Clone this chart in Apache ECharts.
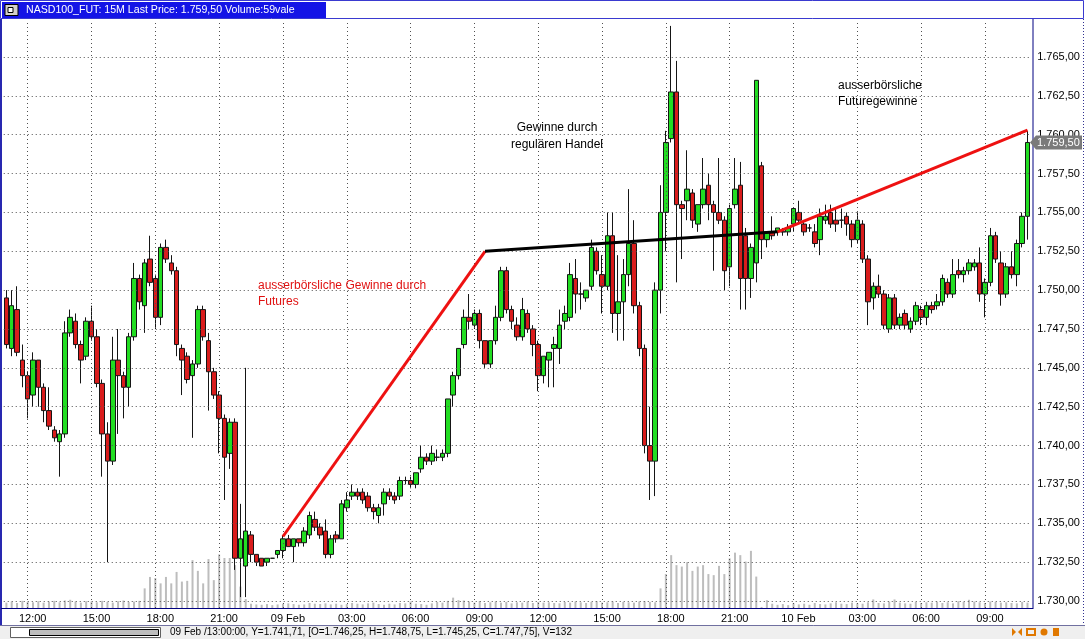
<!DOCTYPE html>
<html><head><meta charset="utf-8">
<script src="https://cdn.jsdelivr.net/npm/echarts@6/dist/echarts.min.js"></script>
<style>html,body{margin:0;padding:0;background:#fff;overflow:hidden}#c{width:1085px;height:639px}</style>
</head><body><div id="c"></div>
<script>
// ---- data ----
const xTickLabels = ['12:00','15:00','18:00','21:00','09 Feb','03:00','06:00','09:00','12:00','15:00','18:00','21:00','10 Feb','03:00','06:00','09:00'];
const yTicks = [1730,1732.5,1735,1737.5,1740,1742.5,1745,1747.5,1750,1752.5,1755,1757.5,1760,1762.5,1765];
// [open, close, low, high] per 15-minute bar, 08 Feb 11:00 .. 10 Feb 11:00
const ohlc = [
[1749.5,1746.5,1746.25,1750.0],[1746.25,1749.0,1745.75,1750.0],[1748.75,1746.0,1745.75,1750.25],[1745.5,1744.5,1743.75,1746.5],
[1744.5,1743.0,1741.75,1744.75],[1743.25,1745.5,1742.5,1746.0],[1745.5,1743.75,1742.5,1745.5],[1743.75,1742.25,1741.5,1744.0],
[1742.25,1741.25,1741.0,1743.75],[1741.0,1740.5,1740.25,1741.25],[1740.25,1740.75,1738.0,1741.0],[1740.75,1747.25,1740.5,1748.0],
[1747.25,1748.25,1747.0,1748.75],[1748.0,1746.5,1746.25,1748.5],[1746.5,1745.5,1744.0,1746.75],[1745.75,1748.0,1745.5,1748.25],
[1748.0,1747.0,1746.75,1749.0],[1747.0,1744.0,1743.75,1747.5],[1744.0,1740.75,1738.0,1744.25],[1740.75,1739.0,1732.5,1741.5],
[1739.0,1745.5,1738.75,1747.0],[1745.5,1744.5,1740.75,1747.5],[1744.5,1743.75,1741.75,1744.75],[1743.75,1747.0,1742.5,1747.25],
[1747.0,1750.75,1746.75,1751.75],[1750.75,1749.25,1748.75,1751.0],[1749.0,1751.75,1747.25,1752.0],[1752.0,1750.5,1750.25,1753.5],
[1750.75,1748.25,1747.5,1751.0],[1748.25,1752.75,1747.75,1753.0],[1752.75,1752.0,1751.75,1753.25],[1751.75,1751.25,1751.0,1752.25],
[1751.25,1746.5,1745.75,1751.5],[1746.25,1745.5,1743.25,1746.5],[1745.75,1744.25,1744.0,1746.0],[1744.5,1745.25,1740.5,1745.5],
[1745.25,1748.75,1745.0,1749.0],[1748.75,1747.0,1746.75,1749.0],[1746.75,1744.75,1742.25,1747.25],[1744.75,1743.25,1743.0,1745.0],
[1743.25,1741.75,1739.5,1743.5],[1741.75,1739.25,1736.5,1742.0],[1739.5,1741.5,1738.5,1741.75],[1741.5,1732.75,1732.0,1741.75],
[1732.75,1734.0,1730.25,1736.25],[1732.25,1734.5,1730.25,1745.0],[1734.25,1733.0,1732.5,1734.5],[1733.0,1732.5,1732.25,1733.0],
[1732.75,1732.25,1732.25,1732.75],[1732.5,1732.75,1732.25,1732.75],[1732.75,1732.75,1732.75,1732.75],[1733.0,1733.25,1732.75,1733.25],
[1733.25,1734.0,1732.75,1734.25],[1734.0,1733.5,1733.5,1734.25],[1733.5,1734.0,1732.5,1734.0],[1734.0,1733.75,1733.5,1734.0],
[1733.75,1734.5,1733.5,1734.75],[1734.25,1735.5,1734.0,1735.75],[1735.25,1734.75,1734.5,1735.75],[1734.75,1734.25,1734.0,1735.0],
[1734.5,1733.0,1732.75,1735.25],[1733.0,1734.0,1732.75,1734.25],[1734.25,1734.0,1733.75,1734.5],[1734.0,1736.25,1734.0,1736.5],
[1736.0,1736.5,1735.75,1737.0],[1736.75,1737.0,1736.5,1737.5],[1737.0,1736.75,1736.5,1737.25],[1737.0,1736.5,1736.25,1737.25],
[1736.75,1736.0,1735.75,1737.0],[1736.0,1735.75,1735.25,1736.25],[1735.5,1736.0,1735.0,1736.25],[1736.25,1737.0,1735.5,1737.25],
[1737.0,1736.75,1736.5,1737.25],[1736.75,1736.5,1736.25,1737.0],[1736.75,1737.75,1736.5,1738.0],[1737.75,1737.75,1737.5,1738.0],
[1737.75,1737.5,1737.25,1738.0],[1737.5,1738.25,1737.25,1738.25],[1738.5,1739.25,1738.25,1740.0],[1739.25,1739.0,1738.75,1739.5],
[1739.0,1739.5,1738.75,1740.0],[1739.25,1739.25,1739.0,1739.75],[1739.25,1739.5,1739.0,1739.75],[1739.5,1743.0,1739.25,1743.0],
[1743.25,1744.5,1742.5,1744.75],[1744.5,1746.25,1744.25,1746.25],[1746.5,1748.25,1746.25,1748.75],[1748.25,1748.0,1747.5,1749.75],
[1747.75,1748.5,1747.5,1748.75],[1748.5,1746.75,1746.25,1748.75],[1746.75,1745.25,1745.0,1746.75],[1745.25,1746.75,1745.0,1746.75],
[1746.75,1748.25,1746.5,1749.0],[1748.25,1751.25,1748.0,1751.5],[1751.25,1748.75,1748.5,1751.5],[1748.75,1748.0,1747.5,1749.0],
[1747.75,1747.0,1746.75,1748.25],[1747.0,1748.75,1746.75,1749.5],[1748.5,1747.5,1747.25,1748.75],[1747.5,1746.5,1745.75,1747.75],
[1746.5,1744.5,1743.5,1746.75],[1744.5,1745.75,1744.0,1745.75],[1745.5,1746.0,1743.75,1746.0],[1746.25,1746.5,1743.75,1747.0],
[1746.25,1747.75,1745.25,1748.75],[1748.0,1748.5,1747.5,1749.0],[1748.25,1751.0,1748.0,1751.75],[1750.75,1749.75,1748.5,1752.0],
[1749.75,1749.75,1748.75,1750.5],[1749.5,1750.0,1749.25,1750.0],[1750.25,1752.75,1750.0,1753.25],[1752.5,1751.25,1751.0,1752.75],
[1751.0,1750.25,1748.5,1752.25],[1750.25,1753.5,1750.0,1755.0],[1753.5,1748.5,1747.25,1755.0],[1748.5,1749.25,1746.75,1752.25],
[1749.25,1751.0,1746.75,1752.0],[1751.0,1753.0,1750.25,1756.5],[1753.0,1749.0,1748.5,1754.5],[1749.0,1746.25,1745.75,1749.25],
[1746.25,1740.0,1739.5,1746.5],[1740.0,1739.0,1736.5,1742.5],[1739.0,1750.0,1736.75,1750.5],[1750.0,1755.0,1748.5,1756.75],
[1755.0,1759.5,1752.5,1760.25],[1759.75,1762.75,1759.5,1767.0],[1762.75,1755.5,1750.5,1764.75],[1755.5,1755.25,1752.0,1755.75],
[1755.75,1756.5,1754.5,1759.0],[1756.25,1754.5,1754.0,1756.5],[1754.25,1755.5,1753.75,1755.5],[1755.5,1756.5,1755.25,1758.5],
[1756.75,1755.5,1754.5,1757.5],[1755.5,1755.0,1751.25,1755.75],[1755.0,1754.5,1754.25,1758.5],[1754.5,1751.25,1750.0,1754.75],
[1751.5,1755.25,1750.25,1755.5],[1755.5,1756.5,1755.25,1758.5],[1756.75,1750.75,1748.75,1758.25],[1753.5,1750.75,1748.75,1754.0],
[1750.75,1752.75,1749.5,1753.0],[1751.75,1763.5,1750.5,1763.5],[1758.0,1753.25,1752.0,1758.25],[1753.25,1753.75,1752.75,1753.75],
[1753.75,1753.5,1753.25,1754.75],[1753.75,1754.0,1753.5,1754.0],[1753.75,1753.75,1753.5,1754.0],[1753.75,1754.0,1753.5,1754.25],
[1754.25,1755.25,1753.75,1755.25],[1755.0,1754.5,1754.25,1755.75],[1754.25,1753.75,1753.5,1754.5],[1754.0,1754.0,1753.75,1754.25],
[1753.75,1753.0,1752.75,1754.25],[1753.25,1754.75,1752.25,1755.25],[1754.5,1754.75,1754.25,1755.5],[1755.0,1754.25,1754.0,1755.5],
[1754.5,1754.25,1753.75,1755.25],[1754.5,1754.5,1754.0,1755.25],[1754.75,1754.25,1753.5,1755.0],[1754.25,1753.25,1752.75,1754.5],
[1753.25,1754.5,1753.0,1755.0],[1754.25,1752.0,1751.75,1754.5],[1752.0,1749.25,1747.75,1752.25],[1749.5,1750.25,1748.75,1750.5],
[1750.25,1749.75,1749.5,1751.0],[1749.75,1747.75,1747.5,1750.0],[1747.5,1749.5,1747.25,1749.75],[1749.5,1747.75,1747.5,1749.75],
[1747.75,1748.25,1747.5,1748.5],[1748.5,1747.75,1747.5,1748.75],[1747.5,1748.0,1747.25,1748.25],[1748.0,1749.0,1747.75,1749.25],
[1748.75,1748.25,1747.75,1749.0],[1748.25,1749.0,1747.75,1749.25],[1749.0,1748.75,1748.5,1749.25],[1749.0,1749.25,1748.75,1749.75],
[1749.25,1750.75,1749.0,1751.0],[1750.5,1749.75,1749.5,1750.75],[1749.75,1751.0,1749.5,1752.0],[1751.25,1751.0,1750.75,1752.0],
[1751.0,1751.25,1750.5,1751.5],[1751.25,1751.75,1751.0,1752.0],[1751.5,1751.75,1751.25,1752.0],[1751.75,1749.75,1749.25,1752.75],
[1749.75,1750.5,1748.25,1750.75],[1750.5,1753.5,1750.25,1754.0],[1753.5,1752.0,1751.75,1753.75],[1751.75,1749.75,1749.0,1752.5],
[1749.75,1751.5,1749.5,1751.75],[1751.5,1751.0,1750.75,1752.5],[1751.0,1753.0,1750.25,1753.25],[1753.0,1754.75,1752.75,1755.0],
[1754.75,1759.5,1753.25,1760.25]
];
const volumes = [
150,180,140,200,170,160,190,150,180,200,160,210,230,180,150,190,180,160,200,170,150,190,210,170,180,200,
550,870,840,690,870,690,1010,740,760,1340,1040,690,1370,780,1500,1400,1400,1200,600,250,
120,100,90,110,80,100,120,130,110,90,100,140,120,110,130,100,120,90,110,140,120,100,130,150,110,90,120,100,140,130,180,120,110,90,130,170,150,200,
290,220,210,180,150,190,140,160,180,150,170,130,160,150,180,140,170,150,160,140,132,170,150,180,160,140,170,190,150,160,180,140,170,160,150,180,190,170,160,
550,950,1480,1200,1160,1280,1040,1160,1200,950,920,1180,950,1390,1550,1480,1300,1600,880,
30,220,120,90,110,80,130,100,120,90,140,110,100,130,160,120,110,150,130,120,160,240,140,130,180,240,150,130,120,170,140,160,150,180,140,160,130,190,170,230,180,160,140,180,170,150,160,140,130,170,150,140
];
// trend lines drawn on the chart: [bar index, price]
const offExchangeLine1 = [[52,1734.15],[90,1752.5]];
const regularLine = [[90,1752.5],[145,1753.75]];
const offExchangeLine2 = [[145,1753.75],[192,1760.3]];
const firstTickIndex = 4, tickStep = 12;
const statusText = '09 Feb /13:00:00, Y=1.741,71, [O=1.746,25, H=1.748,75, L=1.745,25, C=1.747,75], V=132';

// ---- helpers ----
function deFmt(v){const s=v.toFixed(2).split('.');return s[0].replace(/\B(?=(\d{3})+(?!\d))/g,'.')+','+s[1];}
const categories=[];
for(let i=0;i<ohlc.length;i++){const t=11*60+i*15;const d=8+Math.floor(t/1440);const m=t%1440;
  categories.push(String(d).padStart(2,'0')+' Feb '+String(Math.floor(m/60)).padStart(2,'0')+':'+String(m%60).padStart(2,'0'));}
const tickIdx=[];for(let i=firstTickIndex;i<ohlc.length;i+=tickStep)tickIdx.push(i);
const lastPrice=ohlc[ohlc.length-1][1];
const FONT='"Liberation Sans", Arial, sans-serif';

const chart=echarts.init(document.getElementById('c'),null,{renderer:'canvas'});
const option={
  animation:false,backgroundColor:'#ffffff',
  grid:{left:3.74,right:54.86,top:20,bottom:31},
  xAxis:{type:'category',data:categories,boundaryGap:true,
    axisLine:{show:false},axisTick:{show:false},splitLine:{show:false},
    axisLabel:{interval:(i)=>i>=firstTickIndex&&(i-firstTickIndex)%tickStep===0,
      formatter:(v,i)=>xTickLabels[(i-firstTickIndex)/tickStep]||'',
      fontSize:11,color:'#000',fontFamily:FONT,margin:5,padding:[0,0,0,10]}},
  yAxis:[
    {type:'value',position:'right',min:1729.55,max:1767.38,scale:true,
      axisLine:{show:false},axisTick:{show:false},splitLine:{show:false},
      axisLabel:{customValues:yTicks,formatter:deFmt,fontSize:11,color:'#000',fontFamily:FONT,margin:7}},
    {type:'value',min:0,max:16464,show:false}
  ],
  series:[
    {type:'line',data:[],z:1,silent:true,
      markLine:{symbol:'none',silent:true,animation:false,label:{show:false},
        lineStyle:{color:'#505050',type:[1,3],width:1},
        data:[...yTicks.map(v=>({yAxis:v})),...tickIdx.map(i=>({xAxis:categories[i]}))]}},
    {type:'bar',yAxisIndex:1,data:volumes,barWidth:2,itemStyle:{color:'#bdbdbd'},z:2,silent:true},
    {type:'candlestick',data:ohlc,barWidth:5,z:3,
      itemStyle:{color:'#22dd22',color0:'#d91c1c',borderColor:'#151515',borderColor0:'#151515',borderWidth:1}},
    {type:'line',data:offExchangeLine1,symbol:'none',z:5,lineStyle:{color:'#ee1111',width:3}},
    {type:'line',data:regularLine,symbol:'none',z:5,lineStyle:{color:'#000',width:3}},
    {type:'line',data:offExchangeLine2,symbol:'none',z:5,lineStyle:{color:'#ee1111',width:3}}
  ]
};
chart.setOption(option);

const py=chart.convertToPixel({yAxisIndex:0},lastPrice);
const g=[];
// title bar
g.push({type:'rect',shape:{x:0.5,y:0.5,width:1083,height:18},style:{fill:'#fff',stroke:'#3a3ad0',lineWidth:1},z:10});
g.push({type:'rect',shape:{x:2,y:2,width:324,height:16},style:{fill:'#1414e6'},z:11});
g.push({type:'rect',shape:{x:5,y:4.5,width:13,height:11},style:{fill:'#d4d0c8',stroke:'#000',lineWidth:1},z:12});
g.push({type:'rect',shape:{x:8,y:7.5,width:5,height:5},style:{fill:'#fff',stroke:'#000',lineWidth:1},z:12});
g.push({type:'text',x:26,y:10,style:{text:'NASD100_FUT: 15M Last Price: '+deFmt(lastPrice)+' Volume:59vale',fill:'#fff',font:'10.6px '+FONT,verticalAlign:'middle'},z:12});
// frame lines
g.push({type:'line',shape:{x1:1,y1:19,x2:1,y2:625},style:{stroke:'#2828b0',lineWidth:2},z:10});
g.push({type:'line',shape:{x1:1033,y1:19,x2:1033,y2:609},style:{stroke:'#000080',lineWidth:1},z:10});
g.push({type:'line',shape:{x1:1,y1:608.5,x2:1033,y2:608.5},style:{stroke:'#000080',lineWidth:1},z:10});
g.push({type:'line',shape:{x1:1083.5,y1:19,x2:1083.5,y2:625},style:{stroke:'#303090',lineWidth:1,lineDash:[1,2]},z:10});
// annotations
const red='#e01010';
g.push({type:'text',x:258,y:286,style:{text:'ausserbörsliche Gewinne durch',fill:red,font:'12px '+FONT,verticalAlign:'middle'},z:12});
g.push({type:'text',x:258,y:302,style:{text:'Futures',fill:red,font:'12px '+FONT,verticalAlign:'middle'},z:12});
g.push({type:'text',x:557,y:128,style:{text:'Gewinne durch',fill:'#000',font:'12px '+FONT,verticalAlign:'middle',align:'center'},z:12});
g.push({type:'text',x:557,y:145,style:{text:'regulären Handel',fill:'#000',font:'12px '+FONT,verticalAlign:'middle',align:'center'},z:12});
g.push({type:'text',x:838,y:86,style:{text:'ausserbörsliche',fill:'#000',font:'12px '+FONT,verticalAlign:'middle'},z:12});
g.push({type:'text',x:838,y:102,style:{text:'Futuregewinne',fill:'#000',font:'12px '+FONT,verticalAlign:'middle'},z:12});
// last price tag
g.push({type:'polygon',shape:{points:[[1030,py],[1036,py-7],[1082,py-7],[1082,py+7],[1036,py+7]]},style:{fill:'#7a7a7a'},z:12});
g.push({type:'text',x:1037,y:py,style:{text:deFmt(lastPrice),fill:'#fff',font:'11px '+FONT,verticalAlign:'middle'},z:13});
// status bar
g.push({type:'rect',shape:{x:0,y:625,width:1085,height:14},style:{fill:'#efefef'},z:10});
g.push({type:'line',shape:{x1:0,y1:625.5,x2:1085,y2:625.5},style:{stroke:'#7070a0',lineWidth:1},z:11});
g.push({type:'rect',shape:{x:10.5,y:627.5,width:150,height:10},style:{fill:'#fff',stroke:'#606060',lineWidth:1},z:11});
g.push({type:'rect',shape:{x:29.5,y:629.5,width:129,height:6},style:{fill:'#bdbdbd',stroke:'#000',lineWidth:1},z:12});
g.push({type:'text',x:170,y:632,style:{text:statusText,fill:'#000',font:'10px '+FONT,verticalAlign:'middle'},z:12});
const orange='#e07800';
g.push({type:'polygon',shape:{points:[[1012,628],[1016,632],[1012,636]]},style:{fill:orange},z:12});
g.push({type:'polygon',shape:{points:[[1022,628],[1018,632],[1022,636]]},style:{fill:orange},z:12});
g.push({type:'rect',shape:{x:1027,y:629,width:8,height:6},style:{fill:'none',stroke:orange,lineWidth:2},z:12});
g.push({type:'circle',shape:{cx:1044,cy:632,r:3.5},style:{fill:orange},z:12});
g.push({type:'rect',shape:{x:1053,y:628,width:6,height:8},style:{fill:orange},z:12});
chart.setOption({graphic:g});
</script></body></html>
